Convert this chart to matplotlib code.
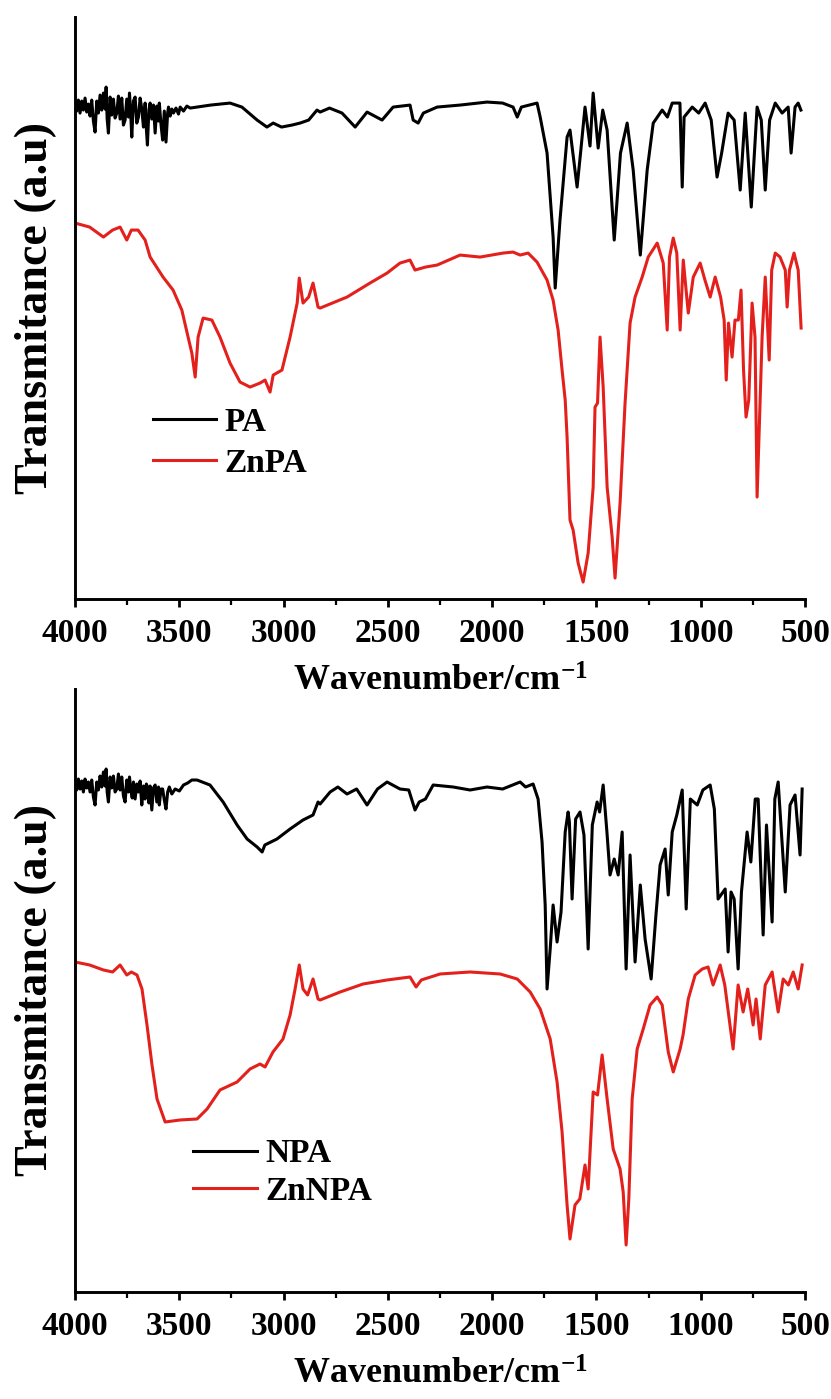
import numpy as np
import matplotlib
matplotlib.use('Agg')
import matplotlib.pyplot as plt
from matplotlib.ticker import MultipleLocator

# ---------------- top panel: PA / ZnPA ----------------
# wavenumbers (cm-1) and transmittance (a.u.)
pa_wn = [4000, 3992, 3984, 3976, 3968, 3960, 3952, 3944, 3936, 3928, 3920, 3912,
         3904, 3896, 3888, 3880, 3872, 3864, 3856, 3851, 3846, 3840, 3832, 3824,
         3816, 3808, 3800, 3792, 3784, 3776, 3768, 3760, 3752, 3744, 3739, 3733,
         3728, 3720, 3712, 3704, 3696, 3688, 3680, 3672, 3664, 3658, 3653, 3646,
         3640, 3632, 3624, 3616, 3608, 3600, 3596, 3588, 3580, 3572, 3564, 3556,
         3552, 3544, 3536, 3528, 3516, 3504, 3496, 3480, 3464, 3448,
         3350, 3257, 3200, 3127, 3080, 3050, 3010, 2960,
         2921, 2880, 2840, 2825, 2780, 2720, 2657, 2600, 2528, 2475, 2394, 2379,
         2355, 2330, 2264, 2154, 2025, 1950, 1900, 1880, 1860, 1785, 1770, 1737,
         1708, 1698, 1675, 1641, 1627, 1593, 1575, 1555, 1531, 1516, 1492, 1470,
         1449, 1415, 1385, 1353, 1324, 1290, 1257, 1228, 1185, 1160, 1137, 1100,
         1089, 1080, 1041, 1010, 979, 950, 922, 900, 869, 840, 811, 787, 758, 730,
         710, 691, 670, 643, 610, 581, 567, 548, 533, 520]
pa_t = [49.6, 48.8, 49.9, 48.6, 49.8, 48.9, 50.1, 48.7, 49.5, 48.3, 49.9, 47.8,
        46.7, 49.8, 48.6, 50.4, 48.9, 50.6, 49.0, 51.2, 48.0, 46.6, 50.2, 48.4,
        50.0, 48.1, 48.6, 50.3, 48.0, 50.1, 47.4, 47.9, 50.0, 48.2, 50.6, 48.5,
        46.2, 49.8, 50.2, 47.6, 48.2, 50.1, 49.0, 47.2, 49.6, 47.0, 45.4, 48.9,
        49.6, 48.0, 49.4, 46.6, 49.3, 47.8, 49.6, 47.5, 45.9, 48.8, 45.7, 48.6,
        49.2, 48.3, 49.0, 48.6, 49.1, 48.5, 49.2, 48.8, 49.3, 49.1,
        49.4, 49.6, 49.2, 47.9, 47.2, 47.6, 47.2, 47.4,
        47.6, 47.9, 48.9, 48.7, 49.1, 48.6, 47.2, 48.7, 47.9, 49.2, 49.4, 47.9,
        47.6, 48.6, 49.2, 49.4, 49.7, 49.6, 49.2, 48.2, 49.2, 49.6, 48.2, 44.6,
        36.2, 31.1, 37.9, 46.2, 46.9, 41.2, 44.9, 49.2, 45.3, 50.6, 45.1, 48.9,
        46.9, 35.9, 44.6, 47.6, 42.9, 34.4, 42.9, 47.6, 48.9, 48.2, 49.6, 49.6,
        41.2, 48.2, 49.2, 48.6, 49.6, 47.9, 42.2, 44.6, 48.6, 47.9, 40.9, 48.6,
        39.2, 49.2, 47.9, 40.9, 47.9, 49.6, 48.6, 49.2, 44.6, 49.2, 49.6, 48.9]

znpa_wn = [4000, 3930, 3864, 3820, 3784, 3752, 3730, 3698, 3664, 3640, 3578, 3530,
           3488, 3458, 3440, 3424, 3410, 3386, 3344, 3305, 3257, 3209, 3161, 3113,
           3089, 3065, 3050, 3008, 2969, 2935, 2925, 2907, 2880, 2859, 2835, 2825,
           2696, 2586, 2504, 2442, 2394, 2370, 2320, 2264, 2154, 2058, 1948, 1900,
           1866, 1828, 1785, 1737, 1708, 1684, 1665, 1650, 1641, 1627, 1612, 1588,
           1564, 1540, 1516, 1507, 1495, 1483, 1468, 1449, 1425, 1411, 1387, 1363,
           1339, 1315, 1281, 1252, 1209, 1180, 1161, 1150, 1132, 1115, 1099, 1084,
           1060, 1036, 1003, 980, 955, 931, 905, 888, 878, 867, 850, 836, 820, 807,
           795, 783, 770, 754, 740, 730, 706, 691, 672, 660, 643, 620, 595, 586,
           575, 553, 533, 519]
znpa_t = [37.6, 37.2, 36.2, 36.9, 37.2, 35.9, 36.9, 36.9, 35.9, 34.2, 32.2, 30.9,
          28.9, 26.2, 24.6, 22.2, 26.2, 28.1, 27.9, 26.2, 23.6, 21.7, 21.2, 21.6,
          21.9, 20.7, 22.4, 22.9, 26.2, 29.6, 32.1, 29.6, 30.2, 31.6, 29.2, 29.1,
          30.2, 31.6, 32.6, 33.6, 33.9, 32.9, 33.2, 33.4, 34.4, 34.2, 34.6, 34.7,
          34.4, 34.6, 33.7, 31.9, 29.9, 26.9, 22.9, 19.9, 16.2, 7.9, 6.9, 3.6,
          1.7, 4.6, 11.2, 19.2, 19.6, 26.2, 21.2, 11.2, 6.2, 2.1, 9.6, 19.6,
          27.6, 30.2, 32.2, 34.2, 35.6, 33.6, 26.9, 34.2, 36.1, 34.6, 26.9, 33.9,
          28.6, 32.2, 33.6, 31.9, 30.2, 32.2, 30.2, 27.9, 21.9, 27.6, 24.2, 27.9,
          27.9, 30.9, 22.9, 18.2, 19.9, 29.6, 26.2, 10.2, 26.2, 32.2, 23.9, 32.9,
          34.6, 34.2, 32.9, 29.2, 32.9, 34.6, 32.9, 27.1]

# ---------------- bottom panel: NPA / ZnNPA ----------------
npa_wn = [4000, 3992, 3984, 3976, 3968, 3960, 3952, 3944, 3936, 3928, 3920, 3912,
          3904, 3896, 3888, 3880, 3872, 3864, 3856, 3851, 3846, 3840, 3832, 3824,
          3816, 3808, 3800, 3792, 3784, 3776, 3768, 3760, 3752, 3744, 3739, 3733,
          3726, 3720, 3712, 3704, 3696, 3688, 3680, 3672, 3664, 3658, 3653, 3646,
          3640, 3632, 3624, 3616, 3608, 3600, 3596, 3588, 3580, 3572, 3564, 3556,
          3548, 3536, 3520, 3500, 3480, 3460, 3440,
          3415, 3353, 3290, 3223, 3175, 3127, 3103, 3090, 3032,
          2969, 2907, 2859, 2835, 2825, 2777, 2740, 2696, 2650, 2600, 2550, 2504,
          2442, 2400, 2370, 2350, 2320, 2283, 2187, 2106, 2025, 1950, 1866, 1840,
          1804, 1780, 1761, 1746, 1737, 1722, 1708, 1689, 1670, 1650, 1636, 1630,
          1617, 1600, 1579, 1560, 1540, 1520, 1497, 1485, 1468, 1450, 1435, 1415,
          1396, 1377, 1358, 1339, 1315, 1290, 1267, 1238, 1215, 1195, 1171, 1156,
          1137, 1115, 1089, 1070, 1050, 1017, 990, 955, 935, 917, 883, 869, 855,
          840, 821, 805, 778, 760, 739, 725, 701, 685, 658, 645, 629, 595, 572,
          548, 524, 514]
npa_t = [51.0, 50.2, 51.3, 50.3, 51.1, 50.0, 51.3, 50.4, 51.0, 50.0, 51.2, 49.5,
         48.7, 51.0, 50.2, 51.6, 50.5, 52.0, 50.6, 52.3, 50.0, 49.0, 51.5, 50.4,
         51.6, 50.0, 50.3, 51.8, 50.2, 51.5, 49.6, 49.0, 51.2, 50.0, 51.5, 50.3,
         49.4, 51.0, 49.3, 50.8, 50.0, 51.1, 48.7, 50.6, 49.3, 50.8, 50.5, 48.9,
         50.6, 48.2, 50.4, 50.7, 49.0, 50.5, 48.7, 50.3, 50.3, 49.2, 48.3, 50.0,
         50.5, 49.8, 50.3, 50.1, 50.7, 50.9, 51.2,
         51.2, 50.7, 49.0, 46.7, 45.3, 44.5, 44.0, 44.7, 45.3,
         46.3, 47.2, 47.7, 49.0, 48.8, 50.0, 50.5, 49.8, 50.3, 48.7, 50.3, 51.0,
         50.3, 50.2, 48.2, 49.0, 49.3, 50.7, 50.5, 50.2, 50.5, 50.3, 51.0, 50.5,
         50.8, 49.3, 45.0, 38.7, 30.3, 34.3, 38.7, 35.0, 38.0, 46.0, 48.0, 47.0,
         39.3, 47.3, 48.0, 45.7, 34.3, 46.7, 49.0, 48.0, 50.7, 46.0, 41.7, 43.3,
         41.7, 46.0, 32.3, 43.7, 33.0, 40.7, 35.3, 31.3, 37.7, 42.7, 44.3, 39.7,
         46.0, 47.7, 50.2, 38.3, 49.3, 48.7, 50.2, 50.7, 48.3, 39.3, 40.3, 34.0, 40.0,
         39.3, 32.3, 40.0, 46.0, 43.0, 49.3, 49.3, 35.7, 46.7, 37.0, 49.3, 51.0, 40.0,
         48.7, 49.7, 43.7, 50.3]

znnpa_wn = [4000, 3930, 3864, 3820, 3784, 3752, 3730, 3703, 3679, 3655, 3631, 3607,
            3568, 3496, 3415, 3367, 3305, 3223, 3161, 3113, 3089, 3051, 3003, 2969,
            2945, 2925, 2907, 2885, 2859, 2835, 2825, 2729, 2619, 2504, 2394, 2365,
            2340, 2250, 2106, 1962, 1880, 1818, 1770, 1722, 1689, 1665, 1641, 1627,
            1603, 1580, 1555, 1540, 1516, 1495, 1473, 1449, 1420, 1387, 1372, 1358,
            1345, 1329, 1305, 1276, 1243, 1209, 1185, 1156, 1132, 1099, 1085, 1060,
            1027, 993, 965, 941, 907, 885, 845, 821, 797, 775, 749, 735, 715, 691,
            658, 629, 605, 580, 557, 533, 514]
znnpa_t = [33.0, 32.7, 32.2, 32.0, 32.7, 31.7, 32.0, 31.7, 30.3, 26.7, 22.7, 19.3,
           17.0, 17.2, 17.3, 18.3, 20.2, 21.0, 22.3, 22.8, 22.5, 24.0, 25.3, 27.7,
           30.3, 32.7, 30.3, 29.7, 31.3, 29.3, 29.2, 30.0, 30.8, 31.2, 31.5, 30.5,
           31.2, 31.8, 32.0, 31.8, 31.3, 30.0, 28.3, 25.3, 21.0, 16.0, 8.7, 5.3,
           8.7, 9.3, 12.7, 10.3, 20.0, 19.7, 23.7, 19.3, 14.3, 12.3, 10.0, 4.7,
           9.3, 19.3, 24.3, 26.3, 28.7, 29.5, 28.7, 24.0, 22.0, 24.3, 25.7, 29.3,
           31.7, 32.3, 32.5, 30.7, 32.7, 30.7, 24.3, 30.7, 28.0, 30.3, 26.7, 29.3,
           25.3, 30.7, 32.0, 28.0, 31.3, 30.7, 32.0, 30.3, 32.7]

RED = '#e3201c'

plt.rcParams['font.family'] = 'Liberation Serif'
plt.rcParams['font.weight'] = 'bold'
plt.rcParams['mathtext.fontset'] = 'custom'
plt.rcParams['mathtext.rm'] = 'Liberation Serif:bold'
plt.rcParams['mathtext.it'] = 'Liberation Serif:bold'
plt.rcParams['mathtext.bf'] = 'Liberation Serif:bold'


def plot_panel(ax, wn1, t1, lab1, wn2, t2, lab2, ytop, leg_anchor, leg_space):
	'''draw one FTIR panel with two spectra'''
	ax.plot(wn1, t1, color='black', linewidth=2.2, label=lab1)
	ax.plot(wn2, t2, color=RED, linewidth=2.2, label=lab2)

	# cosmetics
	ax.set_xlim(4000, 500)
	ax.set_ylim(0, ytop)
	ax.xaxis.set_major_locator(MultipleLocator(500))
	ax.xaxis.set_minor_locator(MultipleLocator(250))
	ax.tick_params(axis='x', which='major', direction='out', length=6, width=2,
		labelsize=24, pad=8)
	ax.tick_params(axis='x', which='minor', direction='out', length=4, width=1.6)
	ax.set_yticks([])
	for s in ['top', 'right']:
		ax.spines[s].set_visible(False)
	for s in ['left', 'bottom']:
		ax.spines[s].set_linewidth(2.1)

	ax.set_xlabel('Wavenumber/cm$^{-1}$', fontsize=26, fontweight='bold', labelpad=12)
	ax.set_ylabel('Transmitance (a.u)', fontsize=33, fontweight='bold', labelpad=13)

	ax.legend(loc='upper left', bbox_to_anchor=leg_anchor, frameon=False,
		fontsize=24, handlelength=1.9, handletextpad=0.25, labelspacing=leg_space,
		borderpad=0, borderaxespad=0)


fig = plt.figure(figsize=(8.31, 13.99), dpi=100)
ax_top = fig.add_axes([0.0903, 0.5718, 0.8785, 0.4160])
ax_bot = fig.add_axes([0.0903, 0.0765, 0.8785, 0.4310])

plot_panel(ax_top, pa_wn, pa_t, 'PA', znpa_wn, znpa_t, 'ZnPA', 58.2, (0.107, 0.33), 0.3)
plot_panel(ax_bot, npa_wn, npa_t, 'NPA', znnpa_wn, znnpa_t, 'ZnNPA', 60.3, (0.162, 0.255), 0.2)

fig.savefig('out.png', dpi=100)
plt.close(fig)
